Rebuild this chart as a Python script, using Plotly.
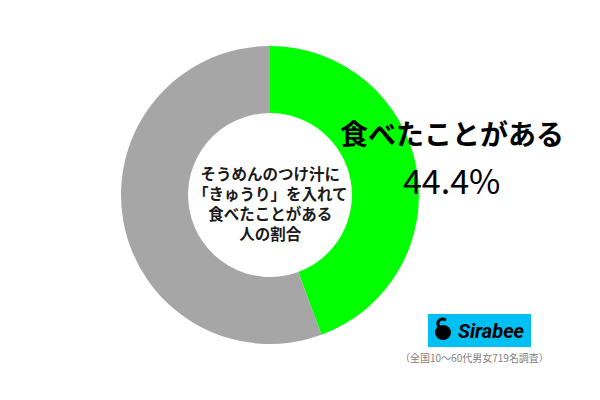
import plotly.graph_objects as go

categories = ["食べたことがある", "食べたことがない"]
values = [44.4, 55.6]
colors = ["#00FF00", "#A6A6A6"]
center_lines = ["そうめんのつけ汁に", "「きゅうり」を入れて", "食べたことがある", "人の割合"]
label_text = "食べたことがある"
pct_text = "44.4%"
brand = "Sirabee"
caption = "（全国10〜60代男女719名調査）"

W, H = 600, 400

def px(x):
    return x / W

def py(y):
    return 1 - y / H

fig = go.Figure()
fig.add_trace(go.Pie(
    labels=categories, values=values, sort=False, direction="clockwise",
    rotation=0, hole=0.55, textinfo="none", hoverinfo="label+percent",
    marker=dict(colors=colors, line=dict(width=0)),
    domain=dict(x=[px(121), px(419)], y=[py(344), py(46)]),
    showlegend=False,
))

jp = "Noto Sans CJK JP"

def ann(x, y, text, font):
    fig.add_annotation(x=px(x), y=py(y), xref="paper", yref="paper", showarrow=False,
                       xanchor="center", yanchor="middle", text=text, font=font, align="center")

ann(270, 203, "<br>".join(f"<b>{l}</b>" for l in center_lines),
    dict(family=jp, size=15.5, color="#1a1a1a"))
ann(452, 133, f"<b>{label_text}</b>", dict(family=jp, size=28, color="#000000", weight=900))
ann(451, 179, pct_text, dict(family=jp, size=34, color="#000000"))

# Logo box
fig.add_shape(type="rect", xref="paper", yref="paper",
              x0=px(428), x1=px(531), y0=py(347), y1=py(314),
              fillcolor="#00BFF3", line=dict(width=0), layer="above")
fig.add_shape(type="circle", xref="paper", yref="paper",
              x0=px(435), x1=px(451), y0=py(340), y1=py(325),
              fillcolor="#000000", line=dict(width=0), layer="above")
fig.add_shape(type="path", xref="paper", yref="paper",
              path=f"M {px(439)},{py(327)} C {px(436)},{py(322)} {px(440)},{py(317)} {px(446)},{py(320)}",
              line=dict(color="#000000", width=3), layer="above")
ann(492, 331, f"<b><i>{brand}</i></b>", dict(family="Roboto", size=20, color="#000000"))
ann(474, 357, caption, dict(family=jp, size=10, color="#808080"))

fig.update_layout(
    width=W, height=H, margin=dict(l=0, r=0, t=0, b=0),
    paper_bgcolor="white", plot_bgcolor="white",
)
fig.write_html("out.html", config={"displayModeBar": False},
               post_script="document.body.style.margin='0';")
